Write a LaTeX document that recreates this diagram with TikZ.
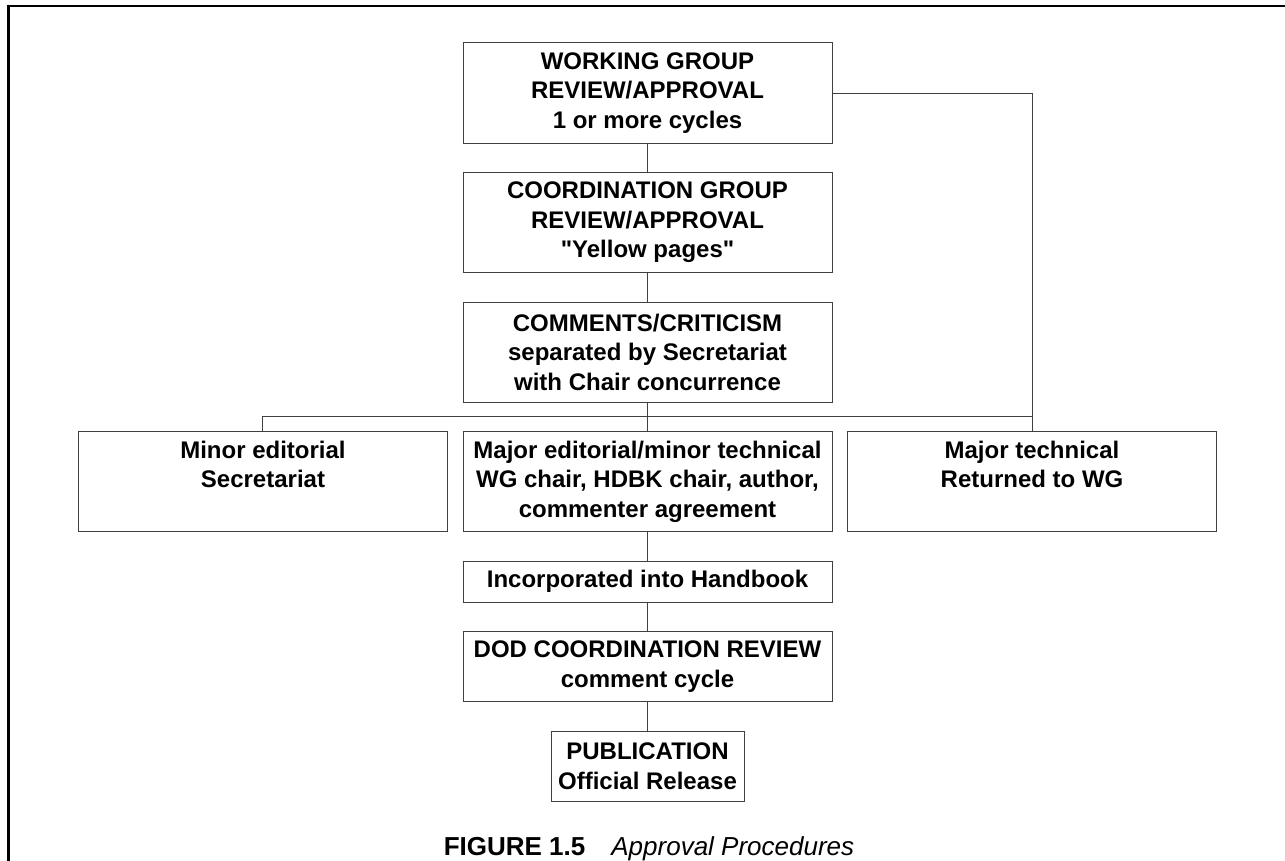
\documentclass[tikz,border=0pt]{standalone}
\usepackage{fontspec}
\setmainfont{Liberation Sans}
\usetikzlibrary{positioning,calc}
\begin{document}
\begin{tikzpicture}[
      x = 1bp, y = 1bp,
      line width = 1bp,
      B/.style={draw=black!75, align=center, inner sep=4bp,
        minimum width=369bp, minimum height=100bp,
        font=\bfseries\fontsize{24bp}{29.5bp}\selectfont},
      S/.style={B, minimum height=41bp},
      M/.style={B, minimum height=70bp},
      node distance = 28.5bp]
      \useasboundingbox (0,0) rectangle (1285,-861);
      \draw[line width = 2.5bp] (8.5,-861) |- (1285,-6);
      \node[B] (wg) at (647.5,-93) {WORKING GROUP\\REVIEW/APPROVAL\\1 or more cycles};
      \node[B, below=of wg] (cg) {COORDINATION GROUP\\REVIEW/APPROVAL\\\textquotedbl Yellow pages\textquotedbl};
      \node[B, below=of cg] (com) {COMMENTS/CRITICISM\\separated by Secretariat\\with Chair concurrence};
      \node[B, below=of com] (mid) {Major editorial/minor technical\\WG chair, HDBK chair, author,\\commenter agreement};
      \node[B, left=14.5bp of mid] (minor) {Minor editorial\\Secretariat\\\vphantom{g}};
      \node[B, right=14.5bp of mid] (major) {Major technical\\Returned to WG\\\vphantom{g}};
      \node[S, below=of mid] (inc) {Incorporated into Handbook};
      \node[M, below=of inc] (dod) {DOD COORDINATION REVIEW\\comment cycle};
      \node[M, minimum width=193bp, below=of dod] (pub) {PUBLICATION\\Official Release};
      \node[anchor=base, font=\fontsize{26bp}{31bp}\selectfont] (cap) at (649,-855)
        {\textbf{FIGURE 1.5}\quad\textit{Approval Procedures}};
      % links
      \coordinate (split) at ($(com.south)!0.5!(mid.north)$);
      \draw[black!75] (wg) -- (cg);
      \draw[black!75] (cg) -- (com);
      \draw[black!75] (com) -- (mid);
      \draw[black!75] (wg.east) -| (major.north);
      \draw[black!75] (minor.north) |- (split) -| (major.north);
      \draw[black!75] (mid) -- (inc);
      \draw[black!75] (inc) -- (dod);
      \draw[black!75] (dod) -- (pub);
\end{tikzpicture}
\end{document}
